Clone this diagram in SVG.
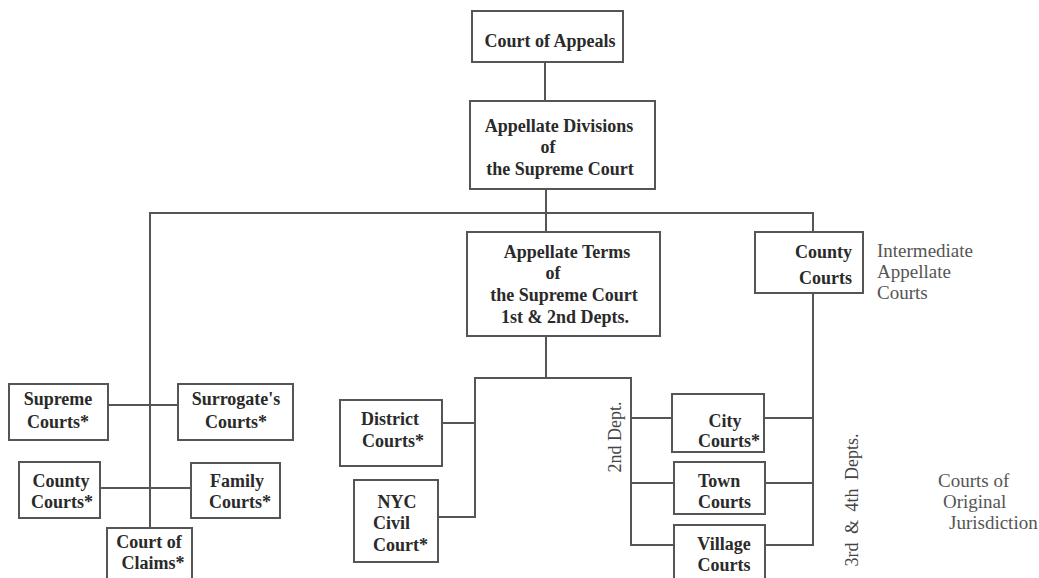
<svg xmlns="http://www.w3.org/2000/svg" width="1039" height="578" viewBox="0 0 1039 578">
<style>
  .box { fill: #ffffff; stroke: #555555; stroke-width: 2; }
  .t { font-family: "Liberation Serif", "Times New Roman", serif; font-weight: bold; font-size: 18px; fill: #2a2a2a; text-anchor: middle; }
  .ts { text-anchor: start; }
  .te { text-anchor: end; }
  .lbl { font-family: "Liberation Serif", "Times New Roman", serif; font-size: 19px; fill: #555555; }
  .rot { font-family: "Liberation Serif", "Times New Roman", serif; font-size: 18px; fill: #444444; text-anchor: middle; }
  .conn line { stroke: #555555; stroke-width: 2; }
</style>
<rect width="1039" height="578" fill="#ffffff"/>

<g id="connectors" class="conn">
  <line x1="545" y1="62" x2="545" y2="101"/>
  <line x1="546" y1="189" x2="546" y2="232"/>
  <line x1="149" y1="213" x2="814" y2="213"/>
  <line x1="813" y1="213" x2="813" y2="232"/>
  <line x1="813" y1="293" x2="813" y2="546"/>
  <line x1="150" y1="213" x2="150" y2="528"/>
  <line x1="108" y1="405" x2="178" y2="405"/>
  <line x1="100" y1="488" x2="191" y2="488"/>
  <line x1="546" y1="336" x2="546" y2="378"/>
  <line x1="474" y1="378" x2="632" y2="378"/>
  <line x1="475" y1="378" x2="475" y2="518"/>
  <line x1="442" y1="423" x2="475" y2="423"/>
  <line x1="438" y1="517" x2="475" y2="517"/>
  <line x1="631" y1="378" x2="631" y2="546"/>
  <line x1="631" y1="418" x2="672" y2="418"/>
  <line x1="631" y1="483" x2="674" y2="483"/>
  <line x1="631" y1="545" x2="674" y2="545"/>
  <line x1="764" y1="418" x2="813" y2="418"/>
  <line x1="765" y1="483" x2="813" y2="483"/>
  <line x1="765" y1="545" x2="813" y2="545"/>
</g>

<g id="court-of-appeals">
  <rect class="box" x="472" y="11" width="151" height="51"/>
  <text class="t" x="550" y="47">Court of Appeals</text>
</g>

<g id="appellate-divisions">
  <rect class="box" x="470" y="101" width="185" height="88"/>
  <text class="t" x="559" y="132">Appellate Divisions</text>
  <text class="t" x="548" y="153">of</text>
  <text class="t" x="560" y="175">the Supreme Court</text>
</g>

<g id="appellate-terms">
  <rect class="box" x="467" y="232" width="193" height="104"/>
  <text class="t" x="567" y="258">Appellate Terms</text>
  <text class="t" x="553" y="279">of</text>
  <text class="t" x="564" y="301">the Supreme Court</text>
  <text class="t" x="565" y="323">1st &amp; 2nd Depts.</text>
</g>

<g id="county-courts-appellate">
  <rect class="box" x="755" y="232" width="108" height="61"/>
  <text class="t te" x="852" y="258">County</text>
  <text class="t te" x="852" y="284">Courts</text>
</g>

<g id="supreme-courts">
  <rect class="box" x="9" y="384" width="99" height="56"/>
  <text class="t" x="58" y="405">Supreme</text>
  <text class="t" x="58" y="428">Courts*</text>
</g>

<g id="surrogates-courts">
  <rect class="box" x="178" y="384" width="115" height="56"/>
  <text class="t" x="236" y="405">Surrogate's</text>
  <text class="t" x="236" y="428">Courts*</text>
</g>

<g id="county-courts">
  <rect class="box" x="19" y="462" width="81" height="56"/>
  <text class="t" x="61" y="487">County</text>
  <text class="t" x="62" y="508">Courts*</text>
</g>

<g id="family-courts">
  <rect class="box" x="191" y="463" width="89" height="55"/>
  <text class="t" x="237" y="487">Family</text>
  <text class="t" x="240" y="508">Courts*</text>
</g>

<g id="court-of-claims">
  <rect class="box" x="107" y="528" width="85" height="62"/>
  <text class="t" x="149" y="548">Court of</text>
  <text class="t" x="153" y="569">Claims*</text>
</g>

<g id="district-courts">
  <rect class="box" x="340" y="400" width="102" height="66"/>
  <text class="t" x="390" y="425">District</text>
  <text class="t" x="393" y="447">Courts*</text>
</g>

<g id="nyc-civil-court">
  <rect class="box" x="354" y="480" width="84" height="82"/>
  <text class="t" x="397" y="508">NYC</text>
  <text class="t ts" x="373" y="529">Civil</text>
  <text class="t ts" x="373" y="551">Court*</text>
</g>

<g id="city-courts">
  <rect class="box" x="672" y="394" width="92" height="58"/>
  <text class="t" x="725" y="427">City</text>
  <text class="t" x="729" y="447">Courts*</text>
</g>

<g id="town-courts">
  <rect class="box" x="674" y="462" width="91" height="52"/>
  <text class="t ts" x="698" y="487">Town</text>
  <text class="t ts" x="698" y="508">Courts</text>
</g>

<g id="village-courts">
  <rect class="box" x="674" y="525" width="91" height="65"/>
  <text class="t" x="724" y="550">Village</text>
  <text class="t" x="724" y="571">Courts</text>
</g>

<g id="labels">
  <text class="lbl" x="877" y="257">Intermediate</text>
  <text class="lbl" x="877" y="278">Appellate</text>
  <text class="lbl" x="877" y="299">Courts</text>
  <text class="lbl" x="938" y="487">Courts of</text>
  <text class="lbl" x="943" y="508">Original</text>
  <text class="lbl" x="949" y="529">Jurisdiction</text>
  <text class="rot" transform="translate(621,437) rotate(-90)">2nd Dept.</text>
  <text class="rot" style="word-spacing:4px" transform="translate(858,500) rotate(-90)">3rd &amp; 4th Depts.</text>
</g>
</svg>
